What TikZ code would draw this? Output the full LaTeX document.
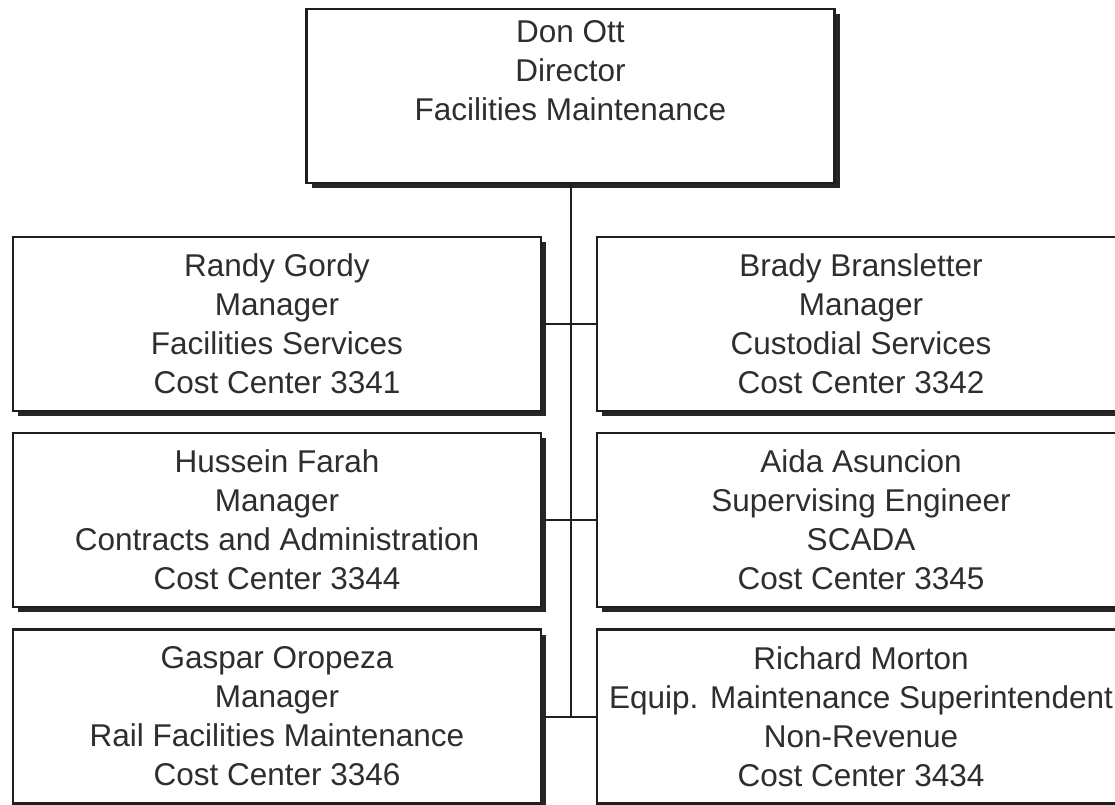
\documentclass[tikz,border=0pt]{standalone}
\usepackage{fontspec}
\setmainfont{Liberation Sans}
\usetikzlibrary{shadows}

\begin{document}
\begin{tikzpicture}[x=1pt, y=-1pt,
  font=\fontsize{31.5}{39}\selectfont,
  box/.style={draw=black!88, line width=2.4pt, fill=white, text=black!82,
    align=center, inner sep=0pt, minimum width=528pt, minimum height=174pt,
    drop shadow={shadow xshift=5pt, shadow yshift=-5pt, fill=black!85, opacity=1}},
  link/.style={draw=black!88, line width=2pt}]
\useasboundingbox (0,0) rectangle (1115,804);
\clip (0,0) rectangle (1115,804);
% director
\node[box] (don) at (570.5,96) {Don Ott\\Director\\Facilities Maintenance\\\strut};
% left column
\node[box] (gordy)   at (277,324)   {Randy Gordy\\Manager\\Facilities Services\\Cost Center 3341};
\node[box] (farah)   at (277,520)   {Hussein Farah\\Manager\\Contracts and Administration\\Cost Center 3344};
\node[box] (oropeza) at (277,716.5) {Gaspar Oropeza\\Manager\\Rail Facilities Maintenance\\Cost Center 3346};
% right column
\node[box] (brady)  at (861,324)   {Brady Bransletter\\Manager\\Custodial Services\\Cost Center 3342};
\node[box] (aida)   at (861,520)   {Aida Asuncion\\Supervising Engineer\\SCADA\\Cost Center 3345};
\node[box] (morton) at (861,716.5) {Richard Morton\\Equip. Maintenance Superintendent\\Non-Revenue\\Cost Center 3434};
% connectors
\coordinate (trunkend) at (don.south |- oropeza.east);
\draw[link] (don.south) -- (trunkend);
\draw[link] (gordy.east) -- (brady.west);
\draw[link] (farah.east) -- (aida.west);
\draw[link] (oropeza.east) -- (morton.west);
\end{tikzpicture}
\end{document}
